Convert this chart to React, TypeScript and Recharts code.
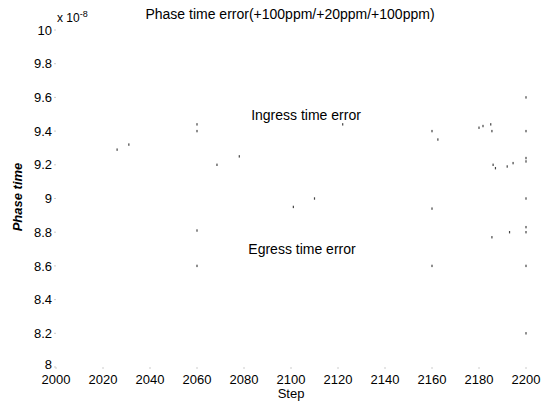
import React from 'react';
import { CartesianGrid, Scatter, ScatterChart, XAxis, YAxis } from 'recharts';

// values in units of 1e-8
const stepTicks = [2000, 2020, 2040, 2060, 2080, 2100, 2120, 2140, 2160, 2180, 2200];
const phaseTicks = [8, 8.2, 8.4, 8.6, 8.8, 9, 9.2, 9.4, 9.6, 9.8, 10];

// faint remnants of the ingress curve (upper band)
const ingressSteps = [2026, 2031, 2060, 2060, 2068.5, 2078, 2122, 2160, 2162.5, 2180, 2181.7, 2185, 2185.5, 2186, 2187, 2192, 2194.5, 2200, 2200, 2200, 2200];
const ingressValues = [9.29, 9.32, 9.44, 9.4, 9.2, 9.25, 9.44, 9.4, 9.35, 9.42, 9.43, 9.44, 9.4, 9.2, 9.18, 9.19, 9.21, 9.22, 9.4, 9.6, 9.24];

// faint remnants of the egress curve (lower band)
const egressSteps = [2060, 2060, 2101, 2110, 2160, 2160, 2185.5, 2193, 2200, 2200, 2200, 2200, 2200];
const egressValues = [8.81, 8.6, 8.95, 9.0, 8.94, 8.6, 8.77, 8.8, 8.83, 8.8, 9.0, 8.6, 8.2];

const ingressData = ingressSteps.map((step, i) => ({ step, value: ingressValues[i] }));
const egressData = egressSteps.map((step, i) => ({ step, value: egressValues[i] }));

const font = '"Liberation Sans", Arial, sans-serif';

const Speck = (props: any) => {
  const { cx, cy } = props;
  if (cx == null || cy == null) return null;
  return <rect x={cx - 0.6} y={cy - 1.2} width={1.2} height={2.4} fill="#444" />;
};

const PhaseTick = (props: any) => {
  const { x, y, payload } = props;
  const v = Number(payload.value);
  const lift = v === 8 ? -3 : 0;
  return (
    <text x={x} y={y + lift} dy="0.355em" textAnchor="end" fill="#000" fontSize={13} fontFamily={font}>
      {String(Number(v.toFixed(1)))}
    </text>
  );
};

export default function App() {
  return (
    <div style={{ position: 'absolute', left: 0, top: 0, width: 549, height: 401, background: '#fff', fontFamily: font }}>
      <ScatterChart width={549} height={401} margin={{ top: 30, right: 23, bottom: 0, left: 0 }}>
        <CartesianGrid stroke="none" />
        <XAxis
          type="number"
          dataKey="step"
          domain={[2000, 2200]}
          ticks={stepTicks}
          height={34}
          axisLine={false}
          tickLine={{ stroke: '#ccc' }}
          tickSize={2}
          tick={{ fill: '#000', fontSize: 13, fontFamily: font, dy: 4 }}
          label={{ value: 'Step', position: 'insideBottom', offset: 3, fill: '#000', fontSize: 13, fontFamily: font }}
        />
        <YAxis
          type="number"
          dataKey="value"
          domain={[8, 10]}
          ticks={phaseTicks}
          width={56}
          axisLine={false}
          tickLine={{ stroke: '#ccc' }}
          tickSize={2}
          tick={<PhaseTick />}
        />
        <Scatter data={ingressData} shape={<Speck />} isAnimationActive={false} />
        <Scatter data={egressData} shape={<Speck />} isAnimationActive={false} />
      </ScatterChart>
      <div style={{ position: 'absolute', left: 0, width: 580, top: 6, textAlign: 'center', fontSize: 14, color: '#000' }}>
        Phase time error(+100ppm/+20ppm/+100ppm)
      </div>
      <div style={{ position: 'absolute', left: 57, top: 9, fontSize: 12, color: '#000' }}>
        x 10<sup style={{ fontSize: 9 }}>-8</sup>
      </div>
      <div
        style={{
          position: 'absolute',
          left: 18 - 50,
          top: 197 - 9,
          width: 100,
          height: 18,
          lineHeight: '18px',
          textAlign: 'center',
          transform: 'rotate(-90deg)',
          fontSize: 13,
          fontWeight: 'bold',
          fontStyle: 'italic',
          color: '#000',
        }}
      >
        Phase time
      </div>
      <div style={{ position: 'absolute', left: 206, width: 200, top: 107, textAlign: 'center', fontSize: 14, color: '#000' }}>
        Ingress time error
      </div>
      <div style={{ position: 'absolute', left: 202, width: 200, top: 241, textAlign: 'center', fontSize: 14, color: '#000' }}>
        Egress time error
      </div>
    </div>
  );
}
